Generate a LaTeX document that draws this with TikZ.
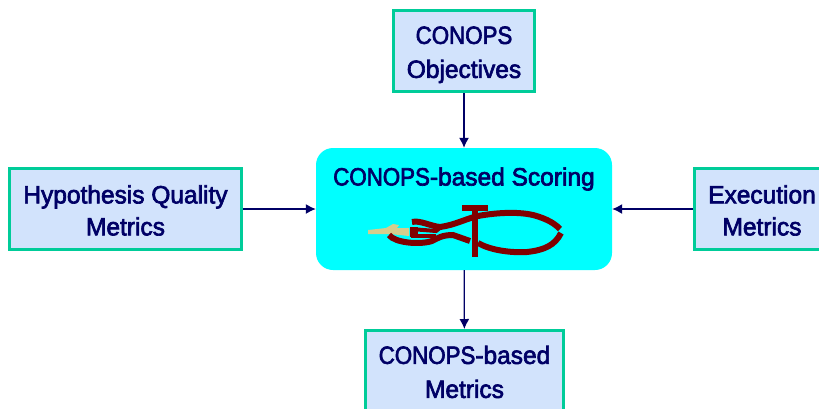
\documentclass[tikz,border=0pt]{standalone}
\usepackage{graphicx}
\usepackage{fontspec}
\setmainfont[FakeStretch=0.98, RawFeature={embolden=2.6}]{Liberation Sans}
\usetikzlibrary{arrows.meta, positioning}
\definecolor{metricblue}{RGB}{210, 227, 252}
\definecolor{metricgreen}{RGB}{0, 204, 153}
\definecolor{textnavy}{RGB}{0, 0, 102}
\definecolor{iconred}{RGB}{128, 0, 0}
\definecolor{iconsand}{RGB}{214, 205, 140}
\definecolor{scoringcyan}{RGB}{0, 255, 255}
\newcommand{\toppad}[1][25pt]{\rule{0pt}{#1}}
\newcommand{\conops}{\scalebox{0.91}[1]{CONOPS}}
\tikzset{
  metricbox/.style={draw=metricgreen, fill=metricblue, line width=3pt, align=center, text=textnavy, font=\fontsize{25}{34}\selectfont, inner sep=0pt, minimum height=81pt},
  flowarrow/.style={draw=textnavy, line width=1.3pt, -{Latex[length=10pt,width=10pt]}},
  iconline/.style={draw=iconred, line width=6pt}
}
\begin{document}
\begin{tikzpicture}[x=1pt, y=-1pt]
  \useasboundingbox (0,0) rectangle (819,408);
  \node[metricbox, minimum width=141pt] (objectives) at (464,51) {\toppad\conops\\Objectives};
  \node[metricbox, minimum width=232pt] (quality) at (125.5,209) {\toppad[21pt]Hypothesis Quality\\[-2pt]Metrics};
  \node[metricbox, minimum width=135pt] (execution) at (762,209) {\toppad[21pt]Execution\\[-2pt]Metrics};
  \node[metricbox, minimum width=198pt] (based) at (464.5,371) {\toppad[20pt]\conops-based\\Metrics};
  \node[fill=scoringcyan, rounded corners=17pt, minimum width=296pt, minimum height=122pt, inner sep=0pt] (scoring) at (464,209) {};
  \node[text=textnavy, font=\fontsize{25}{30}\selectfont, inner sep=0pt] (scoringtitle) at (464,179) {\conops-based Scoring};
  % icon
  \fill[iconsand] (368,230) -- (386,228) -- (393,224) -- (399,225) -- (397,228) -- (409,228) -- (409,236) -- (390,234) -- (368,234) -- cycle;
  \draw[iconline] (412,222) .. controls (420,220) and (430,226) .. (440,227) .. controls (455,225) and (465,219) .. (478,216) .. controls (500,212) and (520,212) .. (533,215) .. controls (548,219) and (555,224) .. (560,229);
  \draw[iconline] (561,233) .. controls (555,245) and (545,250) .. (527,252) .. controls (510,253) and (490,250) .. (478,243);
  \draw[iconline] (389,235) .. controls (395,243) and (420,245) .. (432,241) .. controls (438,238) and (442,235) .. (453,235) -- (470,241);
  \draw[iconline, line width=4pt] (411,229) -- (436,231) -- (441,227);
  \draw[iconline, line width=4pt] (411,236) -- (436,236);
  \fill[iconred] (410,227) rectangle (418,237);
  \fill[iconred] (472,207) rectangle (478,257);
  \fill[iconred] (462,205) rectangle (488,211);
  % connectors
  \draw[flowarrow] (objectives) -- (scoring);
  \draw[flowarrow] (quality) -- (scoring);
  \draw[flowarrow] (execution) -- (scoring);
  \draw[flowarrow] (scoring) -- (based);
\end{tikzpicture}
\end{document}
